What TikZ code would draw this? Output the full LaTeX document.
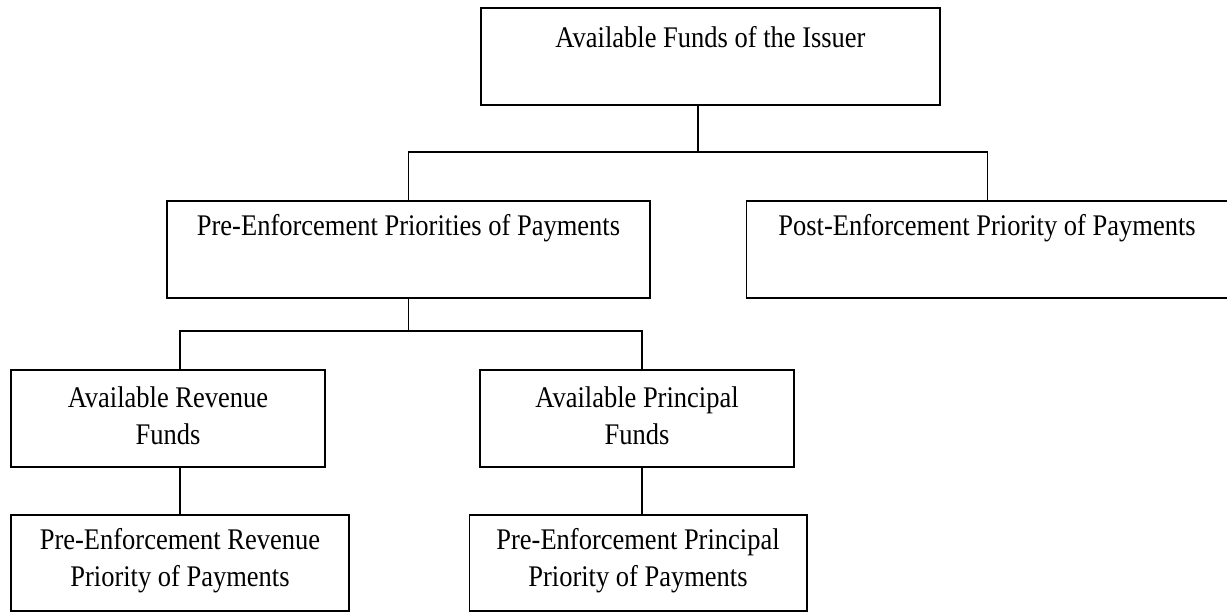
\documentclass[tikz,border=0pt]{standalone}
\usepackage{fontspec}
\setmainfont{Liberation Serif}
\usetikzlibrary{calc}
% slightly tall lettering, as in the printed chart
\newcommand{\tallline}[1]{\scalebox{1}[1.13]{#1}}
\begin{document}
\begin{tikzpicture}[x=1pt,y=1pt,
  fundbox/.style={draw=black, line width=1.6pt, inner sep=0pt, outer sep=0pt},
  boxtext/.style={inner sep=0pt, align=center, font=\fontsize{26.5}{37}\selectfont},
  conn/.style={draw=black, line width=1.3pt}]
\useasboundingbox (0,0) rectangle (1227,-612);

% boxes
\node[fundbox, minimum width=459, minimum height=97] (issuer) at (710.5,-56.5) {};
\node[fundbox, minimum width=483, minimum height=97] (pre) at (408.5,-249.5) {};
\node[fundbox, minimum width=486, minimum height=97] (post) at (989.5,-249.5) {};
\node[fundbox, minimum width=314, minimum height=97] (arev) at (168,-418.5) {};
\node[fundbox, minimum width=314, minimum height=97] (aprin) at (637,-418.5) {};
\node[fundbox, minimum width=338, minimum height=96] (prerev) at (180,-563) {};
\node[fundbox, minimum width=337.5, minimum height=96] (preprin) at (638.25,-563) {};

% labels
\node[boxtext] (tIssuer) at (710.5,-37) {\tallline{Available Funds of the Issuer}};
\node[boxtext] (tPre) at (408.5,-228) {\tallline{Pre-Enforcement Priorities of Payments}};
\node[boxtext] (tPost) at (987,-228) {\tallline{Post-Enforcement Priority of Payments}};
\node[boxtext] (tArev) at (168,-416) {\tallline{Available Revenue}\\\tallline{Funds}};
\node[boxtext] (tAprin) at (637,-416) {\tallline{Available Principal}\\\tallline{Funds}};
\node[boxtext] (tPrerev) at (180,-561) {\tallline{Pre-Enforcement Revenue}\\\tallline{Priority of Payments}};
\node[boxtext] (tPreprin) at (638,-561) {\tallline{Pre-Enforcement Principal}\\\tallline{Priority of Payments}};

% junction points on the buses
\coordinate (busA) at (698,-152);
\coordinate (dropPost) at (987.7,-152);
\coordinate (busB) at (408.5,-331);
\coordinate (dropRev) at (180,-331);
\coordinate (dropPrin) at (642,-331);

% connectors
\draw[conn] (busA |- issuer.south) -- (busA);
\draw[conn] (pre.north) -- (pre.north |- busA) -- (dropPost) -- (dropPost |- post.north);
\draw[conn] (pre.south) -- (busB);
\draw[conn] (dropRev |- arev.north) -- (dropRev) -- (dropPrin) -- (dropPrin |- aprin.north);
\draw[conn] (prerev.north |- arev.south) -- (prerev.north);
\draw[conn] (dropPrin |- aprin.south) -- (dropPrin |- preprin.north);
\end{tikzpicture}
\end{document}
